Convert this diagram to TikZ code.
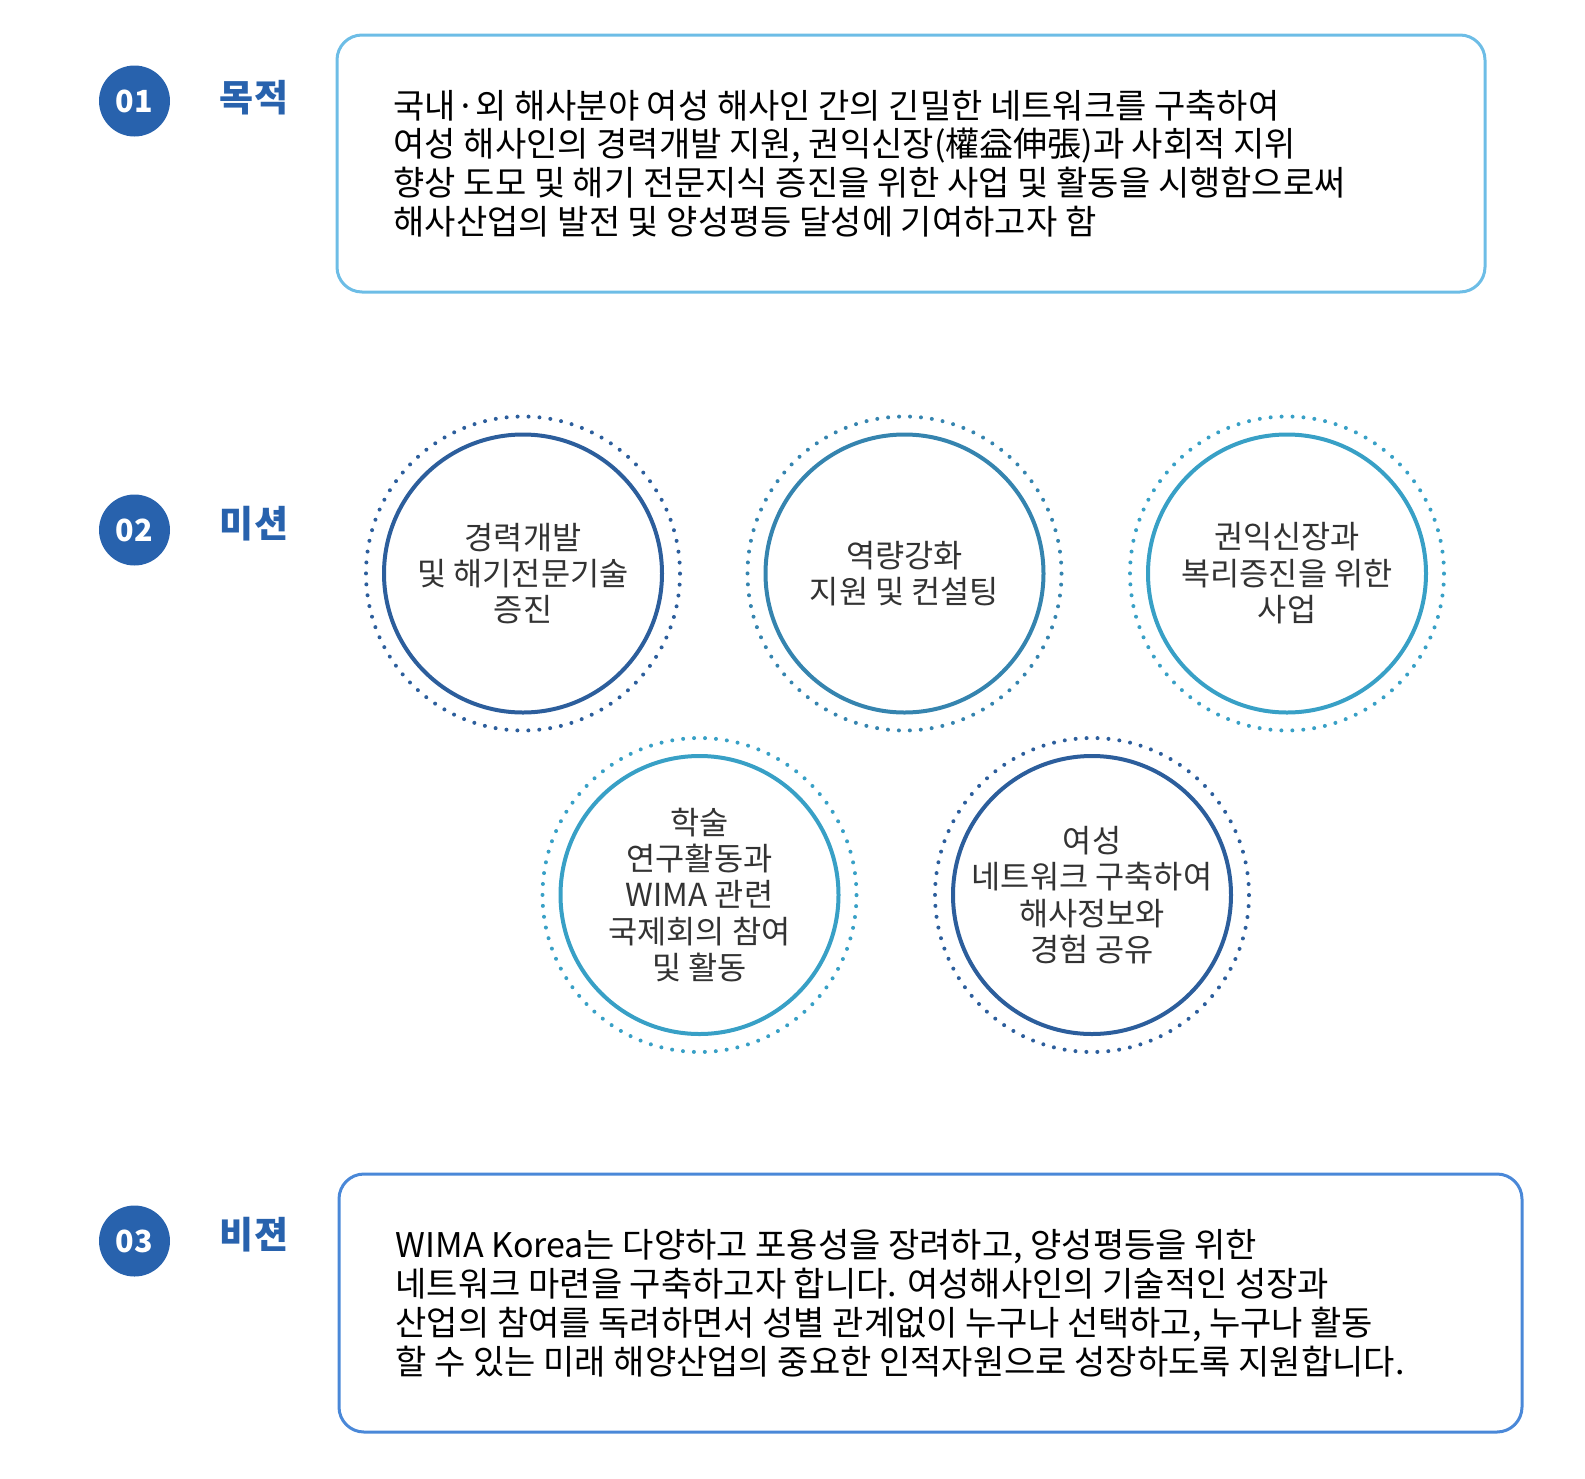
\documentclass[tikz,border=0pt]{standalone}
\usepackage{fontspec}
\setmainfont{Noto Sans CJK KR}
\usetikzlibrary{positioning}

\definecolor{badgeblue}{HTML}{2862AD}
\definecolor{boxsky}{HTML}{6DBDE6}
\definecolor{boxblue}{HTML}{4A88D8}
\definecolor{ringnavy}{HTML}{2C5E9C}
\definecolor{ringteal}{HTML}{3584AF}
\definecolor{ringcyan}{HTML}{38A0C6}
\definecolor{textgray}{HTML}{333333}

\tikzset{
  numbadge/.style={circle, fill=badgeblue, minimum size=71pt, inner sep=0pt,
    text=white, font=\fontsize{30.5}{34}\selectfont\bfseries},
  headlabel/.style={text=badgeblue, inner sep=0pt, font=\fontsize{37}{40}\selectfont\bfseries},
  textbox/.style={draw=#1, line width=3pt, rounded corners=25pt, inner sep=0pt},
  boxtext/.style={align=left, inner sep=0pt, text=black},
  mission/.style={circle, draw=#1, line width=4pt, minimum size=278pt, inner sep=0pt,
    align=center, text=textgray, font=\fontsize{31.7}{36.4}\selectfont},
  dotring/.style={draw=#1, line width=4pt, line cap=round, dash pattern=on 0pt off 10.96pt}
}

\begin{document}
\begin{tikzpicture}[x=1pt,y=-1pt]
  \useasboundingbox (0,0) rectangle (1585,1478);

  % 01 purpose
  \node[numbadge] (n1) at (134.5,101) {01};
  \node[headlabel] (h1) at (254,98) {목적};
  \node[textbox=boxsky, minimum width=1148pt, minimum height=257pt] (purpose) at (911,163.5) {};
  \node[boxtext, font=\fontsize{34}{38.6}\selectfont, right=58pt of purpose.west] (purposetext)
    {국내·외 해사분야 여성 해사인 간의 긴밀한 네트워크를 구축하여\\
     여성 해사인의 경력개발 지원, 권익신장(權益伸張)과 사회적 지위\\
     향상 도모 및 해기 전문지식 증진을 위한 사업 및 활동을 시행함으로써\\
     해사산업의 발전 및 양성평등 달성에 기여하고자 함};

  % 02 mission
  \node[numbadge] (n2) at (134.5,530) {02};
  \node[headlabel] (h2) at (254,524) {미션};
  \node[mission=ringnavy] (m1) at (523,573.5) {경력개발\\및 해기전문기술\\증진};
  \draw[dotring=ringnavy] (m1.center) circle[radius=157pt];
  \node[mission=ringteal] (m2) at (904.5,573.5) {역량강화\\지원 및 컨설팅};
  \draw[dotring=ringteal] (m2.center) circle[radius=157pt];
  \node[mission=ringcyan] (m3) at (1287,573.5) {권익신장과\\복리증진을 위한\\사업};
  \draw[dotring=ringcyan] (m3.center) circle[radius=157pt];
  \node[mission=ringcyan] (m4) at (699.5,895) {학술\\연구활동과\\WIMA 관련\\국제회의 참여\\및 활동};
  \draw[dotring=ringcyan] (m4.center) circle[radius=157pt];
  \node[mission=ringnavy] (m5) at (1092,895) {여성\\네트워크 구축하여\\해사정보와\\경험 공유};
  \draw[dotring=ringnavy] (m5.center) circle[radius=157pt];

  % 03 vision
  \node[numbadge] (n3) at (134.5,1241) {03};
  \node[headlabel] (h3) at (254,1235) {비젼};
  \node[textbox=boxblue, minimum width=1183pt, minimum height=258pt] (vision) at (930.5,1303) {};
  \node[boxtext, font=\fontsize{34}{38.9}\selectfont, right=58pt of vision.west] (visiontext)
    {WIMA Korea는 다양하고 포용성을 장려하고, 양성평등을 위한\\
     네트워크 마련을 구축하고자 합니다. 여성해사인의 기술적인 성장과\\
     산업의 참여를 독려하면서 성별 관계없이 누구나 선택하고, 누구나 활동\\
     할 수 있는 미래 해양산업의 중요한 인적자원으로 성장하도록 지원합니다.};
\end{tikzpicture}
\end{document}
